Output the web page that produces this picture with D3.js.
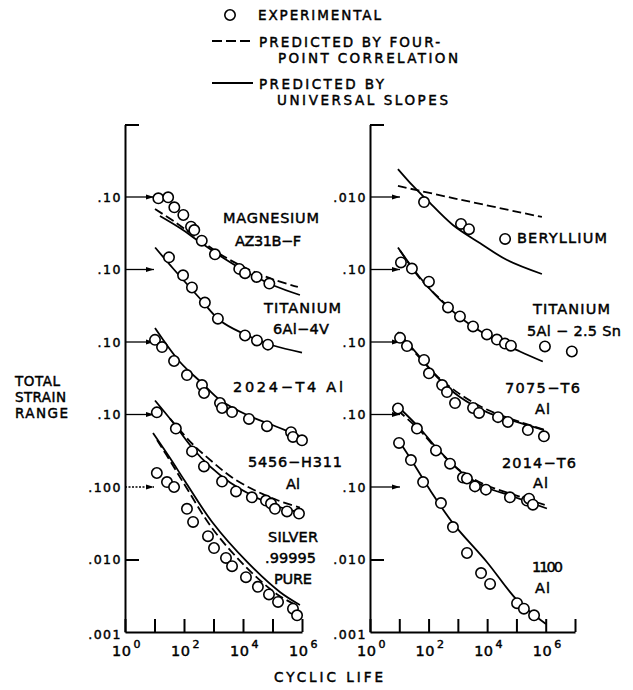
<!DOCTYPE html>
<html><head><meta charset="utf-8">
<script src="https://cdn.jsdelivr.net/npm/d3@7"></script>
<style>body{margin:0;background:#fff} text{stroke:#000;stroke-width:0.45px}</style>
</head><body>
<svg id="c" width="633" height="690"></svg>
<script>
// ---------------- DATA (cycles N, total strain range) ----------------
// Left panel
const mgExp = [[13.5,0.096],[29,0.099],[47,0.072],[95,0.0565],[173,0.039],[223,0.035],[400,0.025],[1120,0.0162],[7450,0.0102],[11700,0.0089],[29000,0.0079],[78000,0.0064]];
const mgSolid = [[15.3,0.0547],[73,0.0373],[347,0.0239],[2450,0.01396],[17400,0.00867],[120000,0.00592],[851000,0.00445]];
const mgDashed = [[10.4,0.0682],[49.5,0.0452],[347,0.0255],[2450,0.01486],[17400,0.00984],[120000,0.00716],[724000,0.00574]];

const ti64Exp = [[31,0.147],[93,0.083],[186,0.0565],[510,0.035],[1410,0.021],[11700,0.0123],[29700,0.0105],[70000,0.0092]];
const ti64Solid = [[10.5,0.201],[42.7,0.1033],[347,0.0398],[1660,0.0198],[10000,0.0131],[105000,0.00895],[1000000,0.00716]];

const al2024Exp = [[10.4,0.107],[18,0.085],[46,0.0547],[126,0.035],[407,0.0255],[478,0.0198],[1660,0.0144],[1950,0.0123],[4250,0.0108],[15900,0.0087],[65000,0.0069],[425000,0.0057],[494000,0.0049],[1000000,0.0044]];
const al2024Solid = [[10.4,0.156],[73,0.053],[407,0.0272],[1660,0.01585],[13800,0.00984],[178000,0.00652],[1000000,0.0049]];

const al5456Exp = [[12,0.107],[53,0.064],[187,0.031],[475,0.0192],[1950,0.0119],[5800,0.0087],[20000,0.0072],[60000,0.0065],[89000,0.0059],[121000,0.0050],[310000,0.0046],[790000,0.0043]];
const al5456Solid = [[10.4,0.156],[42.4,0.0776],[186,0.0351],[759,0.0192],[3630,0.01153],[20400,0.00764],[120000,0.00556],[851000,0.00445]];
const al5456Dashed = [[33.5,0.0881],[186,0.0398],[891,0.0225],[4270,0.01352],[25700,0.00895],[155000,0.00652],[851000,0.00521]];

const silverExp = [[12,0.156],[26.5,0.117],[46,0.100],[126,0.050],[203,0.033],[650,0.021],[1040,0.0144],[2650,0.0105],[4250,0.0081],[12600,0.0057],[32000,0.0042],[76000,0.0033],[154000,0.0026],[494000,0.0021],[680000,0.0017]];
const silverSolid = [[8.9,0.556],[33.5,0.251],[107,0.121],[955,0.0318],[13800,0.00925],[178000,0.00356],[851000,0.00236]];
const silverDashed = [[12.2,0.445],[39.2,0.2075],[117,0.1],[891,0.0272],[11700,0.00813],[155000,0.00324],[724000,0.00229]];

// Right panel
const beExp = [[70,0.0085],[1280,0.00425],[2400,0.0036],[41000,0.00264]];
const beSolid = [[9.0,0.0243],[29.4,0.0142],[88,0.0091],[676,0.00411],[5620,0.00232],[47900,0.00135],[741000,0.000867]];
const beDashed = [[9.0,0.0142],[676,0.00968],[741000,0.0053]];

const ti525Exp = [[11.4,0.125],[27,0.103],[103,0.068],[460,0.030],[1180,0.0225],[3300,0.0164],[9800,0.0127],[21500,0.0108],[40500,0.0095],[65000,0.0089],[940000,0.0087],[7800000,0.0074]];
const ti525Solid = [[9.0,0.201],[50.8,0.0776],[245,0.0385],[2570,0.0174],[18600,0.0108],[132000,0.0074],[794000,0.00538]];
const ti525Dashed = [[10.6,0.183],[50.8,0.0752],[363,0.034]];

const al7075Exp = [[10.6,0.114],[18.3,0.088],[70,0.0565],[103,0.037],[290,0.0255],[425,0.0204],[800,0.0144],[3300,0.0123],[5300,0.0105],[23500,0.0092],[51000,0.0079],[245000,0.0061],[870000,0.0050]];
const al7075Solid = [[9.0,0.1374],[50.8,0.0621],[195,0.0329],[1175,0.0174],[9770,0.0108],[132000,0.00764],[871000,0.0061]];
const al7075Dashed = [[9.0,0.129],[50.8,0.060],[195,0.0339],[1175,0.0191],[9770,0.0117],[132000,0.0079],[871000,0.0062]];

const al2014Exp = [[9,0.121],[40,0.064],[179,0.0319],[540,0.021],[1490,0.0135],[2040,0.0131],[3830,0.0102],[9100,0.0092],[60000,0.0072],[228000,0.0065],[270000,0.0069],[365000,0.0057]];
const al2014Solid = [[9.0,0.129],[50.8,0.0641],[195,0.034],[1480,0.01535],[9770,0.00984],[60300,0.00764],[1100000,0.00505]];
const al2014Dashed = [[9.0,0.1135],[50.8,0.0601],[195,0.0329],[1480,0.01585],[9770,0.0105],[60300,0.00813],[1100000,0.00556]];

const al1100Exp = [[9.8,0.405],[25,0.235],[65,0.117],[265,0.060],[680,0.028],[2050,0.0123],[6200,0.0065],[12600,0.0046],[105000,0.0025],[180000,0.0021],[400000,0.0017]];
const al1100Solid = [[9.8,0.43],[27.1,0.2286],[112,0.091],[676,0.0318],[9770,0.00925],[105000,0.00276],[1020000,0.00129]];

// Curve offsets (decades shifted up on the chart) and reference levels
const leftShifts = [4,3,2,1,0];
const rightShifts = [5,3,2,1,0];
const leftRefs = [0.1,0.1,0.1,0.1,0.1];
const rightRefs = [0.01,0.1,0.1,0.1,0.1];
const leftRefLabels = [".10",".10",".10",".10",".100"];
const rightRefLabels = [".010",".10",".10",".10",".10"];
const bottomTickValues = [0.01, 0.001];
const bottomTickLabels = [".010", ".001"];
const xTickExponents = [0,2,4,6];

// ---------------- LAYOUT ----------------
const svg = d3.select("#c");
const FONT = "DejaVu Sans, Verdana, sans-serif";
const yTop = 124.5, yBot = 632;
const y = d3.scaleLog().domain([1e-3, 1e4]).range([yBot, yTop]);

const panels = [
  { x: d3.scaleLog().domain([1, 1e6]).range([125, 302]), xMax: 1e6, arrowLen: 29,
    shifts: leftShifts, refs: leftRefs, refLabels: leftRefLabels,
    series: [
      {exp: mgExp, solid: mgSolid, dashed: mgDashed},
      {exp: ti64Exp, solid: ti64Solid},
      {exp: al2024Exp, solid: al2024Solid},
      {exp: al5456Exp, solid: al5456Solid, dashed: al5456Dashed},
      {exp: silverExp, solid: silverSolid, dashed: silverDashed, dottedArrow: true}
    ]},
  { x: d3.scaleLog().domain([1, 1e7]).range([370, 575]), xMax: 1e7, arrowLen: 30,
    shifts: rightShifts, refs: rightRefs, refLabels: rightRefLabels,
    series: [
      {exp: beExp, solid: beSolid, dashed: beDashed},
      {exp: ti525Exp, solid: ti525Solid, dashed: ti525Dashed},
      {exp: al7075Exp, solid: al7075Solid, dashed: al7075Dashed},
      {exp: al2014Exp, solid: al2014Solid, dashed: al2014Dashed},
      {exp: al1100Exp, solid: al1100Solid}
    ]}
];

const defs = svg.append("defs");
defs.append("marker").attr("id","ah").attr("markerUnits","userSpaceOnUse")
  .attr("markerWidth",9).attr("markerHeight",6).attr("refX",8).attr("refY",3).attr("orient","auto")
  .append("path").attr("d","M0,0.6 L8,3 L0,5.4 Z").attr("fill","#000");

function label(s, x, cy, w, size, anchor) {
  const t = svg.append("text").attr("x", x).attr("y", cy + 0.36*size)
    .attr("font-family", FONT).attr("font-size", size).attr("fill","#000")
    .attr("text-anchor", anchor || "start").text(s);
  if (w) t.attr("textLength", w).attr("lengthAdjust","spacing");
  return t;
}

panels.forEach(p => {
  const x = p.x, x0 = x.range()[0];
  const g = svg.append("g");
  // bottom axis (ticks pointing up)
  const decades = d3.range(0, Math.round(Math.log10(p.xMax)) + 1).map(e => Math.pow(10, e));
  const gx = g.append("g").attr("transform", `translate(0,${yBot})`)
    .call(d3.axisBottom(x).tickValues(decades).tickSizeInner(-13).tickSizeOuter(0).tickFormat(""));
  gx.selectAll("path,line").attr("stroke","#000").attr("stroke-width",2);
  // left axis line with short ticks (top and .010)
  const gy = g.append("g").attr("transform", `translate(${x0},0)`)
    .call(d3.axisRight(y).tickValues([1e4, 0.01]).tickSizeInner(14).tickSizeOuter(0).tickFormat(""));
  gy.selectAll("path,line").attr("stroke","#000").attr("stroke-width",2);

  // x tick labels
  xTickExponents.forEach(e => {
    const tx = x(Math.pow(10, e));
    const t = svg.append("text").attr("x", tx - 13).attr("y", 656)
      .attr("font-family", FONT).attr("font-size", 14.5).attr("fill","#000");
    t.append("tspan").text("10").attr("letter-spacing", 0.5);
    t.append("tspan").text(String(e)).attr("font-size", 11).attr("dx", 2).attr("dy", -8);
  });

  // bottom fixed tick labels
  bottomTickValues.forEach((v, i) => {
    label(bottomTickLabels[i], x0 - 3, y(v) + (v === 0.001 ? 2 : 0), null, 12.5, "end").attr("letter-spacing", 1.5);
  });

  p.series.forEach((s, i) => {
    const k = Math.pow(10, p.shifts[i]);
    const ref = p.refs[i] * k;
    // reference arrow
    g.append("line").attr("x1", x0).attr("x2", x0 + p.arrowLen).attr("y1", y(ref)).attr("y2", y(ref))
      .attr("stroke","#000").attr("stroke-width",1.3)
      .attr("stroke-dasharray", s.dottedArrow ? "2,1.5" : null)
      .attr("marker-end","url(#ah)");
    label(p.refLabels[i], x0 - 3, y(ref), null, 12.5, "end").attr("letter-spacing", 1.5);

    const line = d3.line().x(d => x(d[0])).y(d => y(d[1] * k)).curve(d3.curveCatmullRom.alpha(0.5));
    if (s.dashed) g.append("path").attr("d", line(s.dashed)).attr("fill","none")
      .attr("stroke","#000").attr("stroke-width",1.8).attr("stroke-dasharray","9,4");
    g.append("path").attr("d", line(s.solid)).attr("fill","none")
      .attr("stroke","#000").attr("stroke-width",1.8);
    g.selectAll(null).data(s.exp).enter().append("circle")
      .attr("cx", d => x(d[0])).attr("cy", d => y(d[1] * k)).attr("r", 5.2)
      .attr("fill","#fff").attr("stroke","#000").attr("stroke-width",1.6);
  });
});

// ---------------- LEGEND ----------------
svg.append("circle").attr("cx",230).attr("cy",15).attr("r",5.2).attr("fill","#fff").attr("stroke","#000").attr("stroke-width",1.6);
label("EXPERIMENTAL", 258, 15, 123, 13.5);
svg.append("line").attr("x1",212).attr("x2",253).attr("y1",41).attr("y2",41).attr("stroke","#000").attr("stroke-width",1.8).attr("stroke-dasharray","10,4");
label("PREDICTED BY FOUR-", 259, 42, 181, 13.5);
label("POINT CORRELATION", 278, 58, 180, 13.5);
svg.append("line").attr("x1",212).attr("x2",253).attr("y1",83).attr("y2",83).attr("stroke","#000").attr("stroke-width",1.8);
label("PREDICTED BY", 259, 84, 125, 13.5);
label("UNIVERSAL SLOPES", 277, 100, 171, 13.5);

// ---------------- MATERIAL LABELS ----------------
const M = 14.5;
label("MAGNESIUM", 223, 218, 96, M);
label("AZ31B\u2212F", 235, 241, 66, M);
label("TITANIUM", 264, 308, 77, M);
label("6Al\u22124V", 273, 329, 56, M);
label("2024\u2212T4  Al", 233, 387, 110, M);
label("5456\u2212H311", 248, 462, 94, M);
label("Al", 286, 484, 14, M);
label("SILVER", 268, 537, 50, M);
label(".99995", 265, 558, 51, M);
label("PURE", 274, 579, 38, M);
label("BERYLLIUM", 517, 238, 90, M);
label("TITANIUM", 533, 309, 77, M);
label("5Al \u2212 2.5 Sn", 527, 331, 94, M);
label("7075\u2212T6", 505, 388, 75, M);
label("Al", 535, 409, 15, M);
label("2014\u2212T6", 502, 463, 74, M);
label("Al", 533, 483, 15, M);
label("1100", 532, 567, 31, M);
label("Al", 535, 588, 15, M);

// ---------------- AXIS TITLES ----------------
label("TOTAL", 15, 381, 45, 13.5);
label("STRAIN", 15, 397, 51, 13.5);
label("RANGE", 15, 413, 53, 13.5);
label("CYCLIC  LIFE", 274, 677, 109, 13.5);
</script>
</body></html>
